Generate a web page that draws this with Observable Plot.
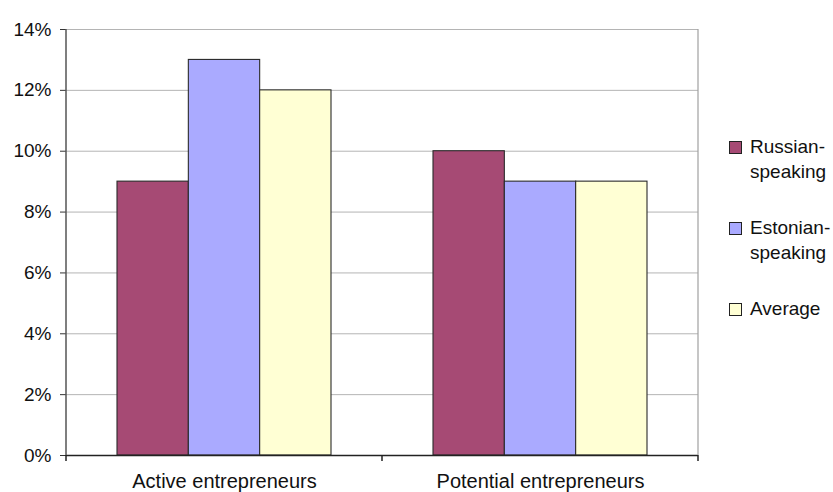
<!DOCTYPE html>
<html>
<head>
<meta charset="utf-8">
<script src="https://cdn.jsdelivr.net/npm/d3@7"></script>
<script src="https://cdn.jsdelivr.net/npm/@observablehq/plot@0.6"></script>
<style>
  html, body { margin: 0; padding: 0; background: #fff; }
  #wrap { position: relative; width: 833px; height: 492px; overflow: hidden; font-family: "Liberation Sans", Arial, sans-serif; color: #111; }
  .leg { position: absolute; left: 729px; font-size: 19px; line-height: 25px; }
  .leg .sw { position: absolute; left: 0; top: 7px; width: 11px; height: 11px; border: 1px solid #222; }
  .leg .tx { margin-left: 21px; white-space: nowrap; }
</style>
</head>
<body>
<div id="wrap"></div>
<script>
const categories = ["Active entrepreneurs", "Potential entrepreneurs"];
const series = ["Russian-speaking", "Estonian-speaking", "Average"];
const legendLines = [["Russian-", "speaking"], ["Estonian-", "speaking"], ["Average"]];
const russianValues = [9, 10];
const estonianValues = [13, 9];
const averageValues = [12, 9];
const yTicks = [0, 2, 4, 6, 8, 10, 12, 14];

const seriesColors = ["#a64a74", "#aaaaff", "#ffffd4"];

const valuesBySeries = [russianValues, estonianValues, averageValues];
const data = [];
categories.forEach((c, i) => {
  series.forEach((s, j) => data.push({category: c, series: s, value: valuesBySeries[j][i]}));
});

const plot = Plot.plot({
  width: 833,
  height: 492,
  marginLeft: 65,
  marginRight: 135,
  marginTop: 29,
  marginBottom: 37,
  style: {fontFamily: "Liberation Sans, Arial, sans-serif", fontSize: "19px", color: "#111", background: "#fff"},
  fx: {domain: categories, padding: 0, label: null},
  x: {domain: series, paddingInner: 0, paddingOuter: 0.715, round: false, axis: null},
  y: {domain: [0, 14], label: null, axis: null},
  color: {domain: series, range: seriesColors},
  marks: [
    Plot.gridY(yTicks, {stroke: "#b4b4b4", strokeOpacity: 1, strokeWidth: 1}),
    Plot.axisY(yTicks, {tickFormat: d => `${d}%`, tickSize: 6, tickPadding: 9, stroke: "#333", label: null, fontSize: 19}),
    Plot.axisFx({anchor: "bottom", tickSize: 0, tickPadding: 18, label: null, fontSize: 20}),
    Plot.barY(data, {fx: "category", x: "series", y: "value", fill: "series", stroke: "#2a2a2a", strokeWidth: 1.1}),
    Plot.ruleY([0], {stroke: "#222", strokeWidth: 1.5})
  ]
});

document.getElementById("wrap").appendChild(plot);

// frame lines and category boundary ticks, placed from the plot's own scales
const fx = plot.scale("fx"), ys = plot.scale("y");
const svg = d3.select(plot);
const xs = categories.map(c => fx.apply(c));
xs.push(fx.apply(categories[categories.length - 1]) + fx.bandwidth);
const y0 = ys.apply(0), yTop = ys.apply(yTicks[yTicks.length - 1]);
svg.append("line").attr("x1", xs[xs.length - 1]).attr("x2", xs[xs.length - 1]).attr("y1", yTop).attr("y2", y0)
  .attr("stroke", "#a0a0a0").attr("stroke-width", 1.2);
svg.append("line").attr("x1", xs[0]).attr("x2", xs[0]).attr("y1", yTop).attr("y2", y0)
  .attr("stroke", "#555").attr("stroke-width", 1.5);
svg.selectAll("line.bt").data(xs).join("line").attr("class", "bt")
  .attr("x1", d => d).attr("x2", d => d).attr("y1", y0).attr("y2", y0 + 6)
  .attr("stroke", "#222").attr("stroke-width", 1.5);

// legend (HTML, right of the plot)
const legTops = [134, 215, 296];
const wrap = document.getElementById("wrap");
series.forEach((s, i) => {
  const item = document.createElement("div");
  item.className = "leg";
  item.style.top = legTops[i] + "px";
  const sw = document.createElement("div");
  sw.className = "sw";
  sw.style.background = seriesColors[i];
  item.appendChild(sw);
  const tx = document.createElement("div");
  tx.className = "tx";
  tx.innerHTML = legendLines[i].join("<br>");
  item.appendChild(tx);
  wrap.appendChild(item);
});
</script>
</body>
</html>
